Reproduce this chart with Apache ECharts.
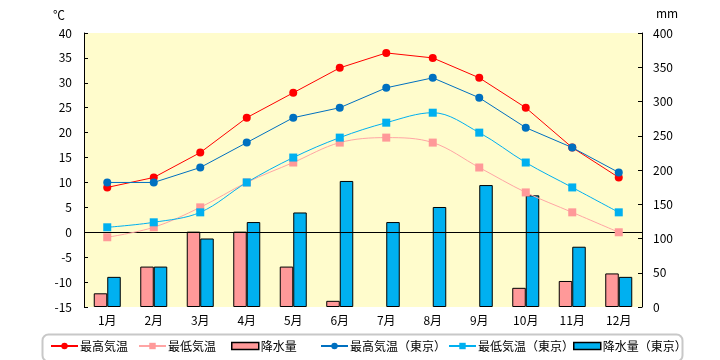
<!DOCTYPE html>
<html>
<head>
<meta charset="utf-8">
<script src="https://cdn.jsdelivr.net/npm/echarts@6/dist/echarts.min.js"></script>
<style>html,body{margin:0;padding:0;background:#fff;}#c{width:720px;height:360px;}</style>
</head>
<body>
<div id="c"></div>
<script>
const months = ['1月','2月','3月','4月','5月','6月','7月','8月','9月','10月','11月','12月'];
const maxTemp = [9, 11, 16, 23, 28, 33, 36, 35, 31, 25, 17, 11];
const minTemp = [-1, 1, 5, 10, 14, 18, 19, 18, 13, 8, 4, 0];
const precip = [20, 59, 110, 110, 59, 9, null, null, null, 28, 38, 49];
const tokyoMax = [10, 10, 13, 18, 23, 25, 29, 31, 27, 21, 17, 12];
const tokyoMin = [1, 2, 4, 10, 15, 19, 22, 24, 20, 14, 9, 4];
const tokyoPrecip = [44, 59, 100, 124, 138, 184, 124, 146, 178, 163, 88, 44];
const seriesNames = ['最高気温','最低気温','降水量','最高気温（東京）','最低気温（東京）','降水量（東京）'];

const FONT = '"Noto Sans CJK JP", "DejaVu Sans", sans-serif';
const chart = echarts.init(document.getElementById('c'), null, {renderer: 'canvas'});

const legendLefts = [50, 138, 231, 320, 448, 573];
const legends = seriesNames.map((n, i) => {
  const isBar = (i === 2 || i === 5);
  const l = {
    data: [isBar ? {name: n, icon: 'rect'} : n],
    left: legendLefts[i],
    top: 340,
    itemWidth: 27,
    itemHeight: isBar ? 7 : 8,
    itemGap: 0,
    padding: 0,
    textStyle: {fontFamily: FONT, fontSize: 12, color: '#000', padding: [0, 0, 0, -3]}
  };
  if (isBar) l.itemStyle = {borderColor: '#000', borderWidth: 1.5};
  return l;
});

chart.setOption({
  animation: false,
  backgroundColor: '#fff',
  textStyle: {fontFamily: FONT},
  grid: {left: 84, right: 78, top: 33, bottom: 53, show: true, backgroundColor: '#FFFCCC', borderWidth: 0},
  legend: legends,
  graphic: [
    {type: 'rect', left: 40, top: 332, shape: {width: 640, height: 27, r: 6}, style: {fill: 'none', stroke: '#c8c8c8', lineWidth: 2}, z: -1},
    {type: 'text', left: 53, top: 9, style: {text: '℃', font: '12px ' + FONT, fill: '#000'}},
    {type: 'text', left: 656, top: 7, style: {text: 'mm', font: '12px ' + FONT, fill: '#000'}}
  ],
  xAxis: {
    type: 'category',
    data: months,
    boundaryGap: true,
    axisLine: {show: false},
    axisTick: {show: false},
    axisLabel: {color: '#000', fontSize: 12, fontFamily: FONT, margin: 7}
  },
  yAxis: [
    {
      type: 'value', min: -15, max: 40, interval: 5, position: 'left',
      axisLine: {show: true, lineStyle: {color: '#000', width: 1}},
      axisTick: {show: true, inside: true, length: 4, lineStyle: {color: '#000'}},
      axisLabel: {color: '#000', fontSize: 12, fontFamily: FONT, margin: 12},
      splitLine: {show: false}
    },
    {
      type: 'value', min: 0, max: 400, interval: 50, position: 'right',
      axisLine: {show: true, lineStyle: {color: '#000', width: 1}},
      axisTick: {show: true, inside: true, length: 4, lineStyle: {color: '#000'}},
      axisLabel: {color: '#000', fontSize: 12, fontFamily: FONT, margin: 11},
      splitLine: {show: false}
    }
  ],
  series: [
    {
      name: seriesNames[0], type: 'line', data: maxTemp, yAxisIndex: 0, z: 10,
      symbol: 'circle', symbolSize: 8,
      lineStyle: {color: '#FF0000', width: 1}, itemStyle: {color: '#FF0000'},
      markLine: {silent: true, symbol: 'none', label: {show: false}, lineStyle: {color: '#000', type: 'solid', width: 1}, data: [{yAxis: 0}], z: 5}
    },
    {
      name: seriesNames[1], type: 'line', data: minTemp, yAxisIndex: 0, z: 9,
      symbol: 'rect', symbolSize: 8, smooth: 0.35,
      lineStyle: {color: '#FFA5A5', width: 1}, itemStyle: {color: '#FF9999'}
    },
    {
      name: seriesNames[2], type: 'bar', data: precip, yAxisIndex: 1, z: 2,
      barWidth: 13.5, barGap: '0%',
      itemStyle: {color: '#FF9999', borderColor: '#000', borderWidth: 1}
    },
    {
      name: seriesNames[3], type: 'line', data: tokyoMax, yAxisIndex: 0, z: 10,
      symbol: 'circle', symbolSize: 8,
      lineStyle: {color: '#0070C0', width: 1}, itemStyle: {color: '#0070C0'}
    },
    {
      name: seriesNames[4], type: 'line', data: tokyoMin, yAxisIndex: 0, z: 9,
      symbol: 'rect', symbolSize: 8, smooth: 0.35,
      lineStyle: {color: '#00B0F0', width: 1}, itemStyle: {color: '#00B0F0'}
    },
    {
      name: seriesNames[5], type: 'bar', data: tokyoPrecip, yAxisIndex: 1, z: 2,
      barWidth: 13.5, barGap: '0%',
      itemStyle: {color: '#00B0F0', borderColor: '#000', borderWidth: 1}
    }
  ]
});
</script>
</body>
</html>
